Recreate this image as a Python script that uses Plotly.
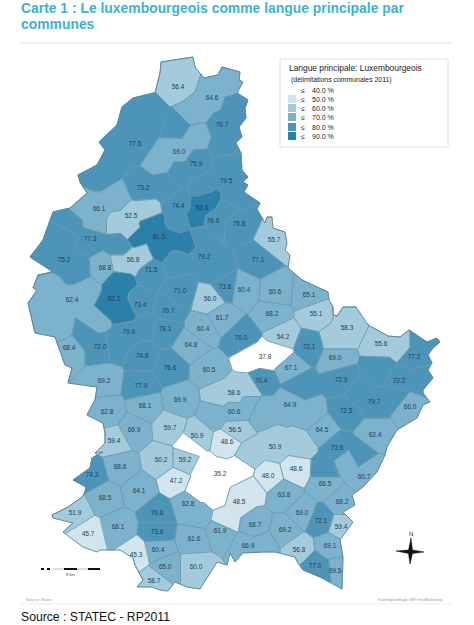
import numpy as np
import plotly.graph_objects as go

# communes : taux (%) et position de l'etiquette, reperes en pixels de la carte
commune_values = [56.4, 64.6, 76.7, 77.5, 69.0, 75.9, 79.5, 73.2, 74.4, 83.6, 66.1, 52.5, 76.6, 75.8, 81.5, 77.3, 55.7,
                  75.2, 79.2, 68.8, 56.8, 71.5, 71.0, 73.8, 56.0, 62.4, 82.1, 73.4, 70.7, 61.7, 60.4, 78.1, 79.6, 64.8,
                  72.0, 68.4, 74.8, 76.6, 60.5, 69.2, 77.9, 58.6, 77.1, 60.4, 60.6, 65.1, 68.2, 55.1, 58.3, 54.2, 76.0,
                  72.1, 55.6, 37.8, 69.0, 77.2, 67.1, 70.4, 72.9, 72.2, 69.9, 68.1, 62.8, 60.6, 66.9, 59.7, 56.5, 50.9,
                  48.6, 59.4, 50.2, 59.2, 35.2, 68.6, 74.3, 47.2, 64.1, 68.5, 62.8, 48.5, 76.8, 51.9, 68.1, 61.9, 73.6,
                  45.7, 61.6, 66.9, 60.4, 45.3, 65.0, 60.0, 64.9, 79.7, 72.5, 66.0, 64.5, 62.4, 50.9, 73.6, 48.6, 48.0,
                  60.7, 66.5, 63.8, 68.2, 69.0, 72.1, 59.4, 68.7, 69.2, 69.1, 56.8, 77.0, 69.5, 58.7]
commune_x = [178, 212, 222, 135, 179, 196, 226, 143, 178, 202, 99, 131, 213, 239, 159, 90, 274,
             64, 204, 105, 133, 151, 180, 225, 210, 72, 114, 140, 168, 222, 203, 165, 129, 191,
             100, 69, 142, 170, 209, 104, 141, 234, 258, 244, 275, 309, 272, 316, 347, 283, 241,
             309, 381, 265, 335, 414, 291, 261, 341, 399, 180, 145, 107, 234, 134, 170, 235, 197,
             227, 114, 161, 185, 220, 120, 92, 176, 139, 105, 188, 239, 157, 75, 118, 220, 157,
             88, 194, 248, 158, 136, 165, 196, 290, 374, 346, 410, 322, 375, 275, 337, 296, 268,
             364, 325, 284, 342, 302, 321, 341, 255, 285, 330, 299, 315, 335, 154]
commune_y = [87, 98, 125, 144, 152, 164, 181, 188, 206, 208, 209, 216, 221, 224, 237, 239, 240,
             260, 257, 268, 260, 270, 291, 287, 299, 300, 299, 305, 311, 318, 329, 329, 332, 345,
             347, 348, 356, 368, 370, 381, 386, 393, 260, 290, 292, 295, 314, 314, 328, 337, 338,
             347, 344, 357, 358, 357, 368, 381, 380, 381, 400, 406, 412, 412, 430, 428, 430, 436,
             442, 441, 460, 460, 474, 467, 475, 481, 491, 498, 504, 502, 513, 513, 527, 531, 532,
             534, 539, 546, 550, 555, 567, 567, 405, 402, 411, 407, 430, 435, 447, 448, 469, 476,
             477, 484, 495, 502, 513, 521, 527, 525, 530, 546, 550, 566, 571, 581]

# points de plus pour les communes allongees (rattaches au meme taux le plus proche)
extra_values = [76.7, 76.7, 79.5, 77.5, 77.5, 77.5, 77.5, 64.6, 64.6, 64.6, 64.6, 56.4, 69.0, 69.0, 75.9, 73.2,
                81.5, 81.5, 81.5, 81.5, 81.5, 83.6, 83.6, 52.5, 52.5, 52.5, 66.1, 66.1, 66.1, 56.8, 56.8,
                82.1, 82.1, 82.1, 62.4, 62.4, 62.4, 62.4, 72.0, 79.6, 79.6, 75.2, 75.2, 75.2, 77.3, 77.3,
                79.2, 79.2, 79.2, 55.6, 77.2, 77.2, 58.3, 58.3, 72.2, 79.7, 79.7, 72.9, 64.9, 64.9,
                50.9, 50.9, 35.2, 35.2, 35.2, 35.2, 35.2, 48.5, 48.5, 73.6, 73.6, 60.7, 60.7, 66.9, 77.0,
                58.6, 58.6, 60.6, 60.6, 37.8, 37.8, 62.8, 79.5, 79.5, 76.6, 74.4]
extra_x = [235, 225, 228, 150, 110, 100, 180, 228, 195, 190, 200, 175, 195, 162, 180, 165,
           175, 150, 135, 185, 160, 210, 197, 145, 118, 132, 85, 115, 95, 120, 142,
           118, 125, 109, 60, 95, 50, 86, 85, 115, 145, 40, 65, 75, 70, 120,
           200, 215, 175, 400, 420, 380, 350, 335, 420, 395, 360, 300, 260, 310,
           250, 300, 190, 205, 240, 215, 198, 225, 250, 360, 325, 347, 370, 262, 325,
           250, 220, 215, 250, 252, 278, 198, 205, 232, 226, 180]
extra_y = [105, 145, 165, 115, 160, 175, 125, 85, 110, 115, 108, 70, 135, 162, 172, 185,
           240, 225, 235, 240, 250, 200, 219, 212, 222, 232, 207, 200, 222, 265, 258,
           280, 312, 305, 330, 320, 290, 293, 335, 345, 325, 258, 235, 270, 225, 245,
           235, 270, 262, 345, 345, 370, 312, 340, 380, 395, 395, 385, 410, 415,
           455, 445, 445, 470, 470, 495, 490, 520, 490, 455, 470, 462, 470, 545, 572,
           388, 395, 415, 405, 358, 353, 515, 186, 198, 209, 224]

# contour du pays
outline_x = [161, 193, 195, 204, 218, 222, 240, 239, 243, 237, 248, 245, 246, 239, 242, 236, 241, 242, 248, 243,
             248, 244, 251, 260, 257, 265, 267, 272, 273, 285, 287, 285, 290, 288, 302, 317, 328, 329, 333, 333,
             337, 343, 356, 368, 388, 400, 409, 427, 437, 440, 433, 428, 432, 428, 433, 423, 423, 430, 423, 417,
             397, 387, 385, 377, 363, 352, 355, 343, 353, 340, 343, 342, 330, 320, 303, 298, 295, 275, 263, 243,
             235, 230, 227, 217, 200, 187, 175, 168, 160, 152, 137, 143, 135, 133, 120, 100, 97, 83, 63, 73,
             53, 52, 68, 82, 85, 86, 73, 90, 92, 103, 95, 105, 105, 103, 87, 95, 97, 68, 72, 65,
             55, 35, 28, 37, 33, 38, 53, 30, 43, 53, 70, 87, 80, 78, 97, 105, 99, 117, 122, 133,
             155, 160]
outline_y = [62, 57, 67, 78, 75, 67, 72, 80, 82, 93, 100, 108, 118, 127, 137, 143, 153, 170, 177, 182,
             185, 192, 197, 203, 209, 223, 217, 217, 228, 232, 243, 250, 255, 268, 280, 287, 292, 300, 307, 315,
             316, 307, 307, 325, 336, 337, 330, 342, 338, 342, 348, 355, 363, 370, 378, 390, 393, 402, 405, 418,
             430, 447, 455, 472, 487, 495, 505, 512, 522, 540, 557, 589, 582, 577, 570, 563, 557, 552, 552, 553,
             562, 553, 565, 562, 589, 587, 582, 591, 590, 587, 587, 580, 565, 558, 550, 550, 552, 547, 532, 523,
             518, 515, 507, 497, 492, 487, 480, 468, 458, 452, 453, 443, 433, 423, 415, 400, 387, 383, 368, 365,
             337, 333, 303, 290, 288, 275, 272, 257, 240, 212, 208, 193, 182, 175, 165, 150, 142, 125, 107, 98,
             93, 73]

# legende
class_limits = [40, 50, 60, 70, 80, 90]
class_colors = ["#ffffff", "#d2e5ec", "#a4cbdc", "#7db2cc", "#4c95b8", "#2a80a9"]
class_labels = ["40.0 %", "50.0 %", "60.0 %", "70.0 %", "80.0 %", "90.0 %"]
legend_y = [90, 99, 108, 117, 127, 136]

seed_x = list(commune_x)
seed_y = list(commune_y)
seed_of = list(range(len(commune_values)))
for v, x, y in zip(extra_values, extra_x, extra_y):
    same = [i for i, c in enumerate(commune_values) if c == v]
    best = min(same, key=lambda i: (commune_x[i] - x) ** 2 + (commune_y[i] - y) ** 2)
    seed_x.append(x)
    seed_y.append(y)
    seed_of.append(best)
seeds = np.array([seed_x, seed_y], dtype=float).T
outline = np.array([outline_x, outline_y], dtype=float).T


def clip_cell(poly, p, q):
    ## garde le cote de p de la mediatrice p-q
    mid = (p + q) / 2
    n = q - p
    out = []
    for k in range(len(poly)):
        a, b = poly[k], poly[(k + 1) % len(poly)]
        da, db = np.dot(a - mid, n), np.dot(b - mid, n)
        if da <= 0:
            out.append(a)
        if da * db < 0:
            out.append(a + (b - a) * da / (da - db))
    return out


def inside(pt, poly):
    x, y = pt
    c = False
    for k in range(len(poly)):
        (x1, y1), (x2, y2) = poly[k], poly[(k + 1) % len(poly)]
        if (y1 > y) != (y2 > y) and x < (x2 - x1) * (y - y1) / (y2 - y1) + x1:
            c = not c
    return c


cells = []
for i, p in enumerate(seeds):
    poly = list(outline)
    for j, q in enumerate(seeds):
        if j != i and poly:
            poly = clip_cell(poly, p, q)
    cells.append(poly)

fig = go.Figure()

fills = {i: ([], []) for i in range(len(commune_values))}
for s, poly in enumerate(cells):
    if poly:
        xs, ys = fills[seed_of[s]]
        xs += [pt[0] for pt in poly] + [poly[0][0], None]
        ys += [pt[1] for pt in poly] + [poly[0][1], None]

for i, v in enumerate(commune_values):
    col = class_colors[int(np.searchsorted(class_limits, v))]
    fig.add_trace(go.Scatter(x=fills[i][0], y=fills[i][1], mode="lines", fill="toself", fillcolor=col,
                             line=dict(color=col, width=0.7), hoverinfo="skip", showlegend=False))

# limites entre communes
border_x, border_y = [], []
for s, poly in enumerate(cells):
    for k in range(len(poly)):
        a, b = poly[k], poly[(k + 1) % len(poly)]
        m = (a + b) / 2
        if np.hypot(*(a - b)) < 0.01 or not inside(m + 0.01, outline):
            continue
        d = np.hypot(*(seeds - m).T)
        order = np.argsort(d)
        if d[order[1]] - d[order[0]] < 0.01 and seed_of[order[0]] == seed_of[order[1]]:
            continue
        border_x += [a[0], b[0], None]
        border_y += [a[1], b[1], None]
fig.add_trace(go.Scatter(x=border_x, y=border_y, mode="lines", line=dict(color="#6b98ae", width=0.6),
                         hoverinfo="skip", showlegend=False))
fig.add_trace(go.Scatter(x=outline_x + outline_x[:1], y=outline_y + outline_y[:1], mode="lines",
                         line=dict(color="#5b8398", width=0.9), hoverinfo="skip", showlegend=False))

fig.add_trace(go.Scatter(x=commune_x, y=commune_y, mode="text", text=[f"{v:.1f}" for v in commune_values],
                         textfont=dict(family="Liberation Sans", size=6.5, color="#1d3f55"),
                         hoverinfo="skip", showlegend=False))

shapes = [
    dict(type="line", x0=20, x1=451, y0=43, y1=43, line=dict(color="#e4e4e4", width=1)),
    dict(type="line", x0=20, x1=451, y0=604, y1=604, line=dict(color="#ececec", width=1)),
    dict(type="rect", x0=280, x1=448, y0=59, y1=147, line=dict(color="#e2e2e2", width=1), fillcolor="white"),
    # echelle
    dict(type="line", x0=41, x1=53, y0=569, y1=569, line=dict(color="#111111", width=2, dash="dot")),
    dict(type="line", x0=53, x1=100, y0=569, y1=569, line=dict(color="#dddddd", width=2)),
    dict(type="line", x0=64, x1=77, y0=569, y1=569, line=dict(color="#111111", width=2)),
    dict(type="line", x0=88, x1=100, y0=569, y1=569, line=dict(color="#111111", width=2)),
    # rose des vents
    dict(type="path", path="M411,538 L412.5,550 L424,552 L412.5,553.5 L410,564 L408.5,553.5 L396,551 L408.5,550 Z",
         fillcolor="#111111", line=dict(color="#111111", width=0.5)),
]
for col, y in zip(class_colors, legend_y):
    shapes.append(dict(type="rect", x0=288, x1=296, y0=y - 4, y1=y + 4, fillcolor=col, line=dict(width=0)))

annotations = []


def add_text(x, y, text, size, color="#222222", family="Liberation Sans", anchor="left"):
    annotations.append(dict(x=x, y=y, text=text, showarrow=False, xanchor=anchor, yanchor="middle",
                            font=dict(family=family, size=size, color=color), xref="x", yref="y"))


add_text(19, 8, "<b>Carte 1 : Le luxembourgeois comme langue principale par</b>", 13.9, "#3fb1d0")
add_text(19, 24, "<b>communes</b>", 13.9, "#3fb1d0")
add_text(287, 68, "Langue principale: Luxembourgeois", 8.4)
add_text(289, 80, "(délimitations communales 2011)", 6.9)
for lab, y in zip(class_labels, legend_y):
    add_text(299, y, "≤", 7)
    add_text(310, y, lab, 7)
add_text(70, 574, "8 km", 4, "#444444", anchor="center")
add_text(411, 534, "N", 6, "#222222", anchor="center")
add_text(24, 599, "Source: Statec", 4, "#999999")
add_text(444, 599, "Kartengrundlage GIR:GeoMarketing", 4, "#999999", anchor="right")
add_text(19, 617, "Source : STATEC - RP2011", 12.2, "#111111")

fig.update_layout(width=474, height=625, margin=dict(l=0, r=0, t=0, b=0), plot_bgcolor="white",
                  paper_bgcolor="white", shapes=shapes, annotations=annotations, showlegend=False,
                  xaxis=dict(range=[0, 474], visible=False, fixedrange=True),
                  yaxis=dict(range=[625, 0], visible=False, fixedrange=True))
fig.write_html("out.html", config=dict(displayModeBar=False),
               post_script="document.body.style.margin='0';document.body.style.overflow='hidden';")
